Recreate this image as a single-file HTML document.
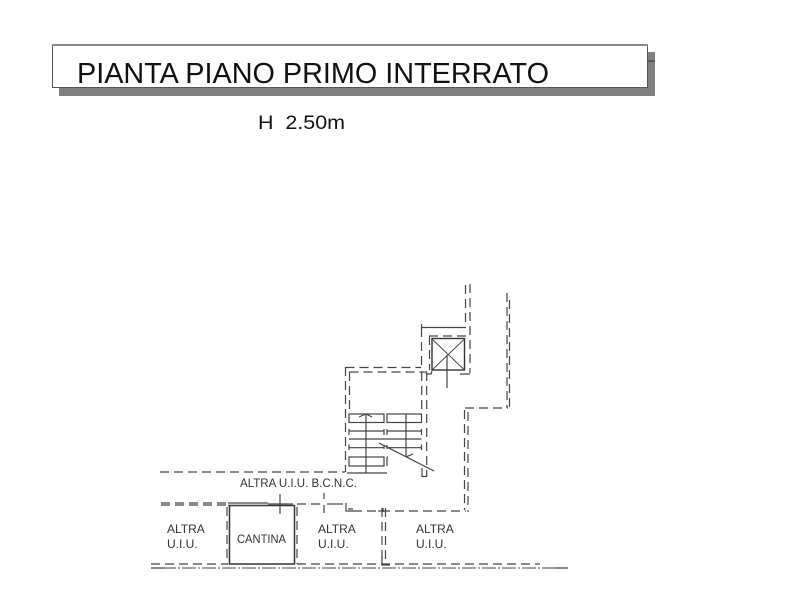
<!DOCTYPE html>
<html>
<head>
<meta charset="utf-8">
<style>
html,body{margin:0;padding:0;background:#fff;}
svg{display:block;}
text{font-family:"Liberation Sans",sans-serif;}
.l{font-size:12px;fill:#333;}
</style>
</head>
<body>
<svg width="800" height="600" viewBox="0 0 800 600" xmlns="http://www.w3.org/2000/svg">
<!-- title box -->
<rect x="59" y="52" width="596" height="44" fill="#808080"/>
<line x1="647" y1="61" x2="655" y2="61" stroke="#333"/>
<rect x="52.5" y="44.5" width="595" height="43" fill="#fff" stroke="#555" stroke-width="1"/>
<line x1="52" y1="45" x2="648" y2="45" stroke="#888" stroke-width="2"/>
<text x="77" y="83" font-size="28.5" fill="#111" textLength="472" lengthAdjust="spacingAndGlyphs">PIANTA PIANO PRIMO INTERRATO</text>
<text x="258" y="129" font-size="19.5" fill="#111" xml:space="preserve" textLength="87" lengthAdjust="spacingAndGlyphs">H  2.50m</text>

<g fill="none" stroke="#444" stroke-width="1.2">
  <!-- dashed walls -->
  <g stroke-dasharray="9 5">
    <path d="M465.5 285V327"/>
    <path d="M470 284V373"/>
    <path d="M507 293V408M509.5 300V410"/>
    <path d="M465 408H508"/>
    <path d="M421.5 328V368"/>
    <path d="M429 336H466"/>
    <path d="M429.5 336V370"/>
    <path d="M345.5 367.5H421"/>
    <path d="M349.5 372H427"/>
    <path d="M345.5 367V472"/>
    <path d="M349.5 372V414"/>
    <path d="M426.7 372V476"/>
    <path d="M421.7 372V414"/>
    <path d="M387 457V471"/>
    <path d="M160 472H345"/>
    <path d="M464.5 410V510M468 412V512"/>
    <path d="M353 511H466"/>
    <path d="M161 503H228M161 505H228"/>
    <path d="M297 504H322"/>
    <path d="M227 507V564"/>
    <path d="M297 507V564"/>
    <path d="M382 508V565M385.5 508V565"/>
    <path d="M151 564H228M297 564H540"/>
  </g>
  <path d="M162 568H568" stroke-dasharray="14 2 2 2" stroke-width="1"/>
  <path d="M151 568H165M555 568H568"/>
  <!-- solid lines -->
  <path d="M421.5 324V327.5H466"/>
  <rect x="432" y="338.5" width="32.5" height="31.5" stroke="#333" stroke-width="1.4"/>
  <path d="M432 339L464.5 370M464.5 339L432 370" stroke-width="0.9"/>
  <path d="M447 355V388"/>
  <path d="M427 374H431L432 371M460 374H470"/>
  <!-- stairs -->
  <rect x="349" y="414" width="35" height="8.5"/>
  <rect x="387" y="414" width="34.5" height="8.5"/>
  <path d="M349 431H384M387 431H421.5M349 439H421.5M349 447.7H384M387 447.7H421.5"/>
  <path d="M349 429V435M421.5 429V435M349 444.5V450M421.5 444.5V450M384 429V435M387 429V435M384 445V449M387 445V449"/>
  <rect x="349" y="457" width="35" height="9"/>
  <path d="M387 457H388"/>
  <path d="M347 473H387"/>
  <path d="M366 414V473M406 414V457"/>
  <path d="M359 417L366 414L372 417"/>
  <path d="M379 443L434 471"/>
  <path d="M406 457L413 454"/>
  <path d="M422 476.5H427M422 468V477"/>
  <!-- cantina -->
  <rect x="229.5" y="505.5" width="65" height="58.5" stroke="#333" stroke-width="1.5"/>
  <path d="M228 503H268M228 505.5H268" stroke-width="1.2"/>
  <path d="M268 504H293" stroke-width="1.2"/>
  <path d="M280 494V514"/>
  <path d="M324 493V499M324 505V513"/>
  <path d="M327 504H343" stroke-width="1.2"/>
  <path d="M346 503V511H353M349 508V509H353"/>
  <path d="M383 508V512M378 511H386"/>
  <path d="M382 556V565H390"/>
</g>

<text class="l" x="240" y="487" textLength="117" lengthAdjust="spacingAndGlyphs">ALTRA U.I.U. B.C.N.C.</text>
<text class="l" x="167" y="533">ALTRA</text>
<text class="l" x="167" y="548">U.I.U.</text>
<text class="l" x="237" y="543" textLength="49" lengthAdjust="spacingAndGlyphs">CANTINA</text>
<text class="l" x="318" y="533">ALTRA</text>
<text class="l" x="318" y="548">U.I.U.</text>
<text class="l" x="416" y="533">ALTRA</text>
<text class="l" x="416" y="548">U.I.U.</text>
</svg>
</body>
</html>
